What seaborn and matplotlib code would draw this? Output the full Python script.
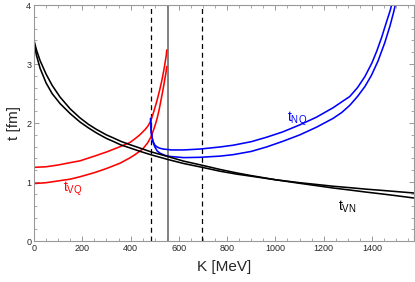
import numpy as np
import matplotlib
matplotlib.use("Agg")
import matplotlib.pyplot as plt
import seaborn as sns
from matplotlib.ticker import MultipleLocator

# t_VN (two black curves, they cross near K ~ 1000)
k_vn = [0, 10, 25, 50, 75, 108, 150, 190, 225, 260, 300, 328, 360, 397, 440, 483, 553, 620, 697, 770,
        840, 900, 1000, 1100, 1170, 1239, 1310, 1377, 1440, 1500, 1575]
t_vn1 = [3.40, 3.24, 3.06, 2.83, 2.64, 2.44, 2.24, 2.09, 1.98, 1.89, 1.80, 1.75, 1.69, 1.635, 1.575, 1.515, 1.435, 1.355, 1.285, 1.215,
         1.155, 1.11, 1.04, 0.98, 0.94, 0.90, 0.865, 0.83, 0.80, 0.77, 0.73]
t_vn2 = [3.36, 3.15, 2.93, 2.68, 2.50, 2.33, 2.16, 2.02, 1.92, 1.83, 1.74, 1.69, 1.63, 1.58, 1.52, 1.465, 1.385, 1.315, 1.25, 1.185,
         1.135, 1.10, 1.04, 0.99, 0.96, 0.93, 0.905, 0.88, 0.86, 0.84, 0.815]

# t_VQ (two red curves)
k_vq1 = [0, 50, 100, 150, 190, 250, 300, 350, 397, 420, 438, 460, 472, 483, 495, 508, 520, 530, 538, 544, 548, 550]
t_vq1 = [1.25, 1.26, 1.29, 1.33, 1.36, 1.44, 1.51, 1.59, 1.67, 1.74, 1.80, 1.89, 1.95, 2.03, 2.18, 2.36, 2.55, 2.73, 2.90, 3.05, 3.15, 3.24]
k_vq2 = [0, 50, 100, 150, 190, 250, 300, 356, 397, 420, 450, 470, 485, 494, 503, 510, 518, 528, 535, 540, 546, 550]
t_vq2 = [0.975, 0.99, 1.02, 1.05, 1.09, 1.16, 1.23, 1.32, 1.41, 1.47, 1.56, 1.66, 1.77, 1.87, 1.98, 2.08, 2.22, 2.43, 2.58, 2.70, 2.84, 2.96]

# t_NQ (two blue curves)
k_nq1 = [483, 484, 486, 489, 493, 500, 508, 520, 536, 570, 620, 687, 770, 825, 900, 963, 1030, 1101, 1170, 1239,
         1275, 1308, 1340, 1371, 1400, 1420, 1440, 1460, 1475, 1488]
t_nq1 = [2.08, 1.95, 1.84, 1.75, 1.69, 1.63, 1.60, 1.575, 1.56, 1.545, 1.545, 1.56, 1.595, 1.625, 1.685, 1.76, 1.85, 1.97, 2.10, 2.26,
         2.36, 2.45, 2.60, 2.79, 3.02, 3.22, 3.45, 3.71, 3.90, 4.10]
k_nq2 = [483, 484, 486, 489, 493, 500, 510, 520, 530, 545, 563, 620, 687, 770, 825, 900, 963, 1030, 1101, 1170,
         1239, 1275, 1308, 1340, 1371, 1398, 1425, 1453, 1475, 1490, 1502]
t_nq2 = [2.08, 1.95, 1.84, 1.76, 1.68, 1.60, 1.53, 1.495, 1.475, 1.45, 1.435, 1.415, 1.42, 1.44, 1.465, 1.52, 1.595, 1.69, 1.80, 1.93,
         2.08, 2.18, 2.30, 2.45, 2.62, 2.81, 3.05, 3.36, 3.65, 3.88, 4.10]

k_dashed = [483, 697]
k_solid = 553

sns.set_style("ticks")
plt.rcParams["font.family"] = ["Liberation Sans", "DejaVu Sans"]
plt.rcParams["mathtext.fontset"] = "custom"
plt.rcParams["mathtext.rm"] = "Liberation Sans"
plt.rcParams["mathtext.it"] = "Liberation Sans"

fig = plt.figure(figsize=(4.15, 2.82), dpi=100)
ax = fig.add_axes([0.082, 0.145, 0.916, 0.837])

for kd in k_dashed:
    ax.axvline(kd, color="black", lw=0.9, ls=(0, (4, 3)), zorder=1)
ax.axvline(k_solid, color="#777777", lw=1.3, zorder=1)

lw = 1.15
sns.lineplot(x=k_vq1, y=t_vq1, color="red", lw=lw, sort=False, estimator=None, ax=ax)
sns.lineplot(x=k_vq2, y=t_vq2, color="red", lw=lw, sort=False, estimator=None, ax=ax)
sns.lineplot(x=k_nq1, y=t_nq1, color="blue", lw=lw, sort=False, estimator=None, ax=ax)
sns.lineplot(x=k_nq2, y=t_nq2, color="blue", lw=lw, sort=False, estimator=None, ax=ax)
sns.lineplot(x=k_vn, y=t_vn1, color="black", lw=lw, sort=False, estimator=None, ax=ax)
sns.lineplot(x=k_vn, y=t_vn2, color="black", lw=lw, sort=False, estimator=None, ax=ax)

ax.text(160, 0.88, r"$\mathrm{t}_{\mathrm{VQ}}$", color="red", fontsize=10, ha="center", va="center")
ax.text(1090, 2.08, r"$\mathrm{t}_{\mathrm{NQ}}$", color="blue", fontsize=10, ha="center", va="center")
ax.text(1300, 0.58, r"$\mathrm{t}_{\mathrm{VN}}$", color="black", fontsize=10, ha="center", va="center")

ax.set_xlim(0, 1575)
ax.set_ylim(0, 4)
ax.xaxis.set_major_locator(MultipleLocator(200))
ax.xaxis.set_minor_locator(MultipleLocator(50))
ax.yaxis.set_major_locator(MultipleLocator(1))
ax.yaxis.set_minor_locator(MultipleLocator(0.2))
ax.tick_params(which="both", direction="in", top=True, right=True, color="#999999", labelsize=6.5, pad=2)
ax.tick_params(which="major", length=3.5, width=0.7)
ax.tick_params(which="minor", length=2, width=0.6)
for s in ax.spines.values():
    s.set_color("#999999")
    s.set_linewidth(0.8)

ax.set_xlabel("K [MeV]", fontsize=11, labelpad=5)
ax.set_ylabel("t [fm]", fontsize=11, labelpad=4)

plt.savefig("out.png", dpi=100)
